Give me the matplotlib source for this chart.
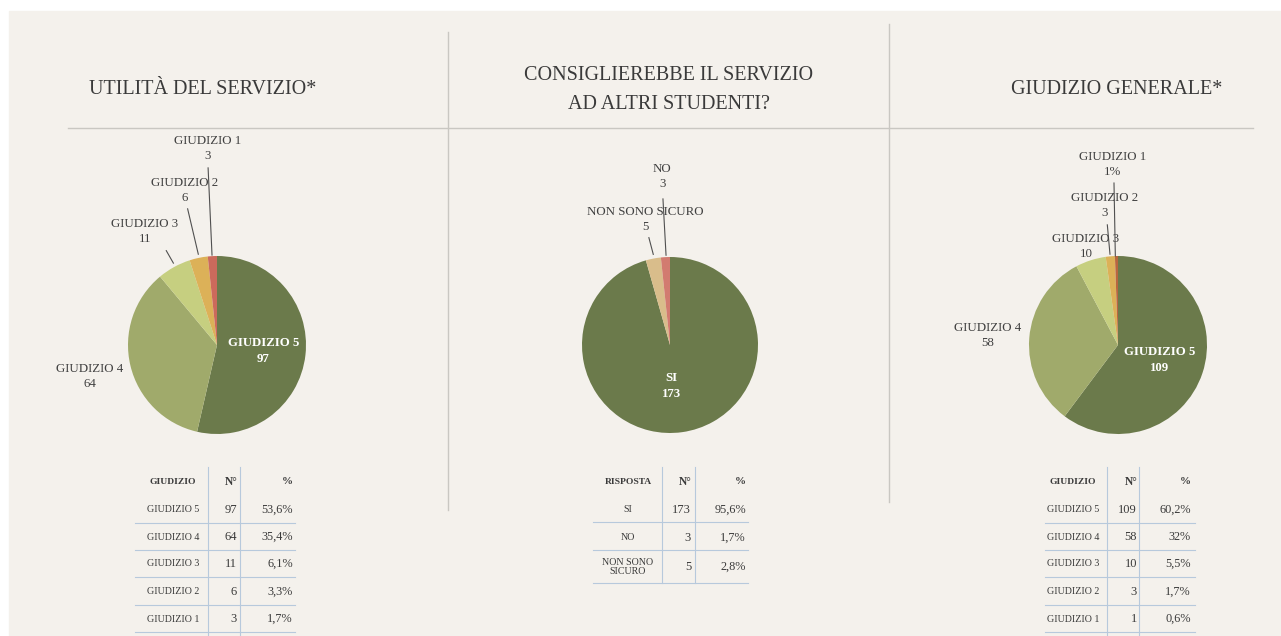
import matplotlib.pyplot as plt
from matplotlib.patches import Rectangle

plt.rcParams['font.family'] = ['Liberation Serif', 'DejaVu Serif']

# data
giudizi = ['GIUDIZIO 5', 'GIUDIZIO 4', 'GIUDIZIO 3', 'GIUDIZIO 2', 'GIUDIZIO 1']
utilita = [97, 64, 11, 6, 3]
utilita_pct = ['53,6%', '35,4%', '6,1%', '3,3%', '1,7%']

risposte = ['SI', 'NO', 'NON SONO SICURO']
consiglio = [173, 3, 5]
consiglio_pct = ['95,6%', '1,7%', '2,8%']

generale = [109, 58, 10, 3, 1]
generale_pct = ['60,2%', '32%', '5,5%', '1,7%', '0,6%']

titles = ['UTILITÀ DEL SERVIZIO*', 'CONSIGLIEREBBE IL SERVIZIO\nAD ALTRI STUDENTI?',
          'GIUDIZIO GENERALE*']

col_giud = ['#6b7a4b', '#a0aa6b', '#c6cf80', '#dcb158', '#cc6a5c']
col_gen = ['#6b7a4b', '#a0aa6b', '#c6cf80', '#dcb158', '#b8663f']
col_cons = {'SI': '#6b7a4b', 'NON SONO SICURO': '#d9bd8b', 'NO': '#d27b70'}

W, H = 1281, 636
fig = plt.figure(figsize=(W / 100, H / 100), dpi=100)
fig.patch.set_facecolor('white')

bg = fig.add_axes([0, 0, 1, 1])
bg.set_xlim(0, W)
bg.set_ylim(H, 0)
bg.axis('off')
bg.add_patch(Rectangle((9, 11), W, H, color='#f4f1ec', zorder=0))

# separators
grey = '#c9c7c2'
bg.plot([68, 1253], [128, 128], color=grey, lw=1)
bg.plot([448, 448], [32, 510], color=grey, lw=1)
bg.plot([889, 889], [24, 502], color=grey, lw=1)

# titles
bg.text(203, 90, titles[0], ha='center', va='center', fontsize=14.5, color='#3a3a3a')
bg.text(669, 90, titles[1], ha='center', va='center', fontsize=14.5, color='#3a3a3a',
        linespacing=1.65)
bg.text(1117, 90, titles[2], ha='center', va='center', fontsize=14.5, color='#3a3a3a')

txt_col = '#404040'


def pie_axes(cx, cy, r):
    ax = fig.add_axes([(cx - r) / W, (H - cy - r) / H, 2 * r / W, 2 * r / H])
    ax.set_xlim(-1, 1)
    ax.set_ylim(-1, 1)
    ax.axis('off')
    return ax


def label(ax, text, xy, line=None, inside=False):
    if inside:
        ax.text(xy[0], xy[1], text, ha='center', va='center', fontsize=9.2,
                color='white', fontweight='bold', linespacing=1.45)
        return
    ax.text(xy[0], xy[1], text, ha='center', va='center', fontsize=9.3,
            color=txt_col, linespacing=1.35, clip_on=False)
    if line:
        ax.plot([line[0][0], line[1][0]], [line[0][1], line[1][1]],
                color='#505050', lw=0.8, clip_on=False)


# pie 1
ax1 = pie_axes(217, 345, 89)
ax1.pie(utilita, colors=col_giud, startangle=90, counterclock=False, radius=1)
ax1.set_xlim(-1, 1)
ax1.set_ylim(-1, 1)
label(ax1, f'{giudizi[0]}\n{utilita[0]}', (0.52, -0.07), inside=True)
label(ax1, f'{giudizi[1]}\n{utilita[1]}', (-1.43, -0.35))
label(ax1, f'{giudizi[2]}\n{utilita[2]}', (-0.81, 1.28), [(-0.57, 1.06), (-0.49, 0.92)])
label(ax1, f'{giudizi[3]}\n{utilita[3]}', (-0.36, 1.74), [(-0.33, 1.53), (-0.21, 1.02)])
label(ax1, f'{giudizi[4]}\n{utilita[4]}', (-0.11, 2.21), [(-0.10, 1.99), (-0.056, 1.01)])

# pie 2 (slice order: SI, NON SONO SICURO, NO)
order = [0, 2, 1]
ax2 = pie_axes(670, 345, 88)
ax2.pie([consiglio[i] for i in order], colors=[col_cons[risposte[i]] for i in order],
        startangle=90, counterclock=False, radius=1)
ax2.set_xlim(-1, 1)
ax2.set_ylim(-1, 1)
label(ax2, f'{risposte[0]}\n{consiglio[0]}', (0.02, -0.47), inside=True)
label(ax2, f'{risposte[2]}\n{consiglio[2]}', (-0.28, 1.43), [(-0.24, 1.22), (-0.19, 1.03)])
label(ax2, f'{risposte[1]}\n{consiglio[1]}', (-0.09, 1.91), [(-0.08, 1.66), (-0.045, 1.02)])

# pie 3
ax3 = pie_axes(1118, 345, 89)
ax3.pie(generale, colors=col_gen, startangle=90, counterclock=False, radius=1)
ax3.set_xlim(-1, 1)
ax3.set_ylim(-1, 1)
label(ax3, f'{giudizi[0]}\n{generale[0]}', (0.47, -0.17), inside=True)
label(ax3, f'{giudizi[1]}\n{generale[1]}', (-1.46, 0.11))
label(ax3, f'{giudizi[2]}\n{generale[2]}', (-0.36, 1.11))
label(ax3, f'{giudizi[3]}\n{generale[3]}', (-0.15, 1.57), [(-0.12, 1.35), (-0.09, 1.02)])
g1 = round(generale[4] / sum(generale) * 100)
label(ax3, f'{giudizi[4]}\n{g1}%', (-0.06, 2.03), [(-0.045, 1.82), (-0.03, 1.0)])

# tables
line_blue = '#b7c9dc'


def table(x0, x1, xa, xb, xlab, xn, xp, head, labels, nums, pcts, row_y, line_y, y_end):
    bg.plot([xa, xa], [467, y_end], color=line_blue, lw=0.8)
    bg.plot([xb, xb], [467, y_end], color=line_blue, lw=0.8)
    bg.text(xlab, 482, head, ha='center', va='center', fontsize=6.8,
            fontweight='bold', color='#3a3a3a')
    bg.text(xn - 6, 482, 'N°', ha='center', va='center', fontsize=8.3,
            fontweight='bold', color='#3a3a3a')
    bg.text(xp, 482, '%', ha='right', va='center', fontsize=8,
            fontweight='bold', color='#3a3a3a')
    for lab, n, p, y in zip(labels, nums, pcts, row_y):
        bg.text(xlab, y, lab, ha='center', va='center', fontsize=7.2,
                color='#3a3a3a', linespacing=1.0)
        bg.text(xn, y, str(n), ha='right', va='center', fontsize=9, color='#3a3a3a')
        bg.text(xp, y, p, ha='right', va='center', fontsize=8.8, color='#3a3a3a')
    for y in line_y:
        bg.plot([x0, x1], [y, y], color=line_blue, lw=0.8)


rows5 = [510, 537, 564, 592, 619]
lines5 = [523, 550, 577, 605, 632]
table(135, 295, 208, 240, 173, 237, 293, 'GIUDIZIO', giudizi, utilita, utilita_pct,
      rows5, lines5, 640)
table(593, 748, 662, 695, 628, 691, 746, 'RISPOSTA',
      ['SI', 'NO', 'NON SONO\nSICURO'], consiglio, consiglio_pct,
      [510, 538, 567], [522, 550, 583], 583)
table(1045, 1195, 1107, 1139, 1073, 1137, 1191, 'GIUDIZIO', giudizi, generale, generale_pct,
      rows5, lines5, 640)

fig.savefig('out.png', dpi=100, facecolor=fig.get_facecolor())
